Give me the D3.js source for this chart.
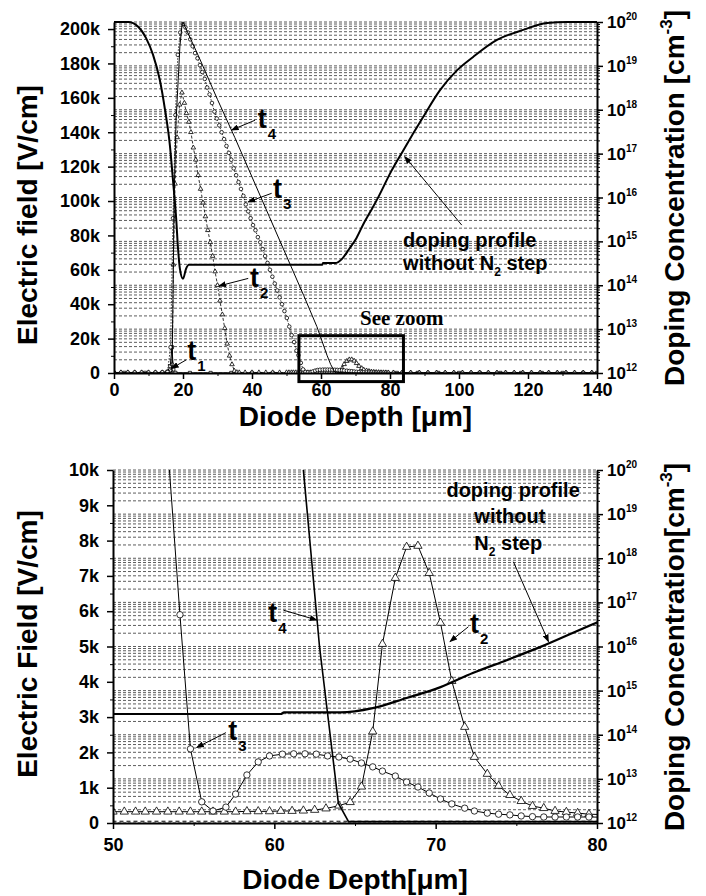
<!DOCTYPE html>
<html>
<head>
<meta charset="utf-8">
<script src="https://cdn.jsdelivr.net/npm/d3@7"></script>
<style>
  body { margin: 0; background: #fff; }
  svg { display: block; }
</style>
</head>
<body>
<svg id="chart" width="706" height="896"></svg>
<script>
// ---- data: [depth um, field kV/cm] ----
const t1 = [[0,0.1],[3,0.1],[6,0.1],[9,0.1],[12,0.1],[14,0.2],[15.5,0.8],[16.3,4],[16.8,15],[17.2,2],[17.8,0.1],
  [22,0.05],[28,0.05],[34,0.05],[40,0.05],[46,0.05],[52,0.05],[58,0.05],[64,0.05],[70,0.05],[76,0.05],
  [82,0.05],[88,0.05],[94,0.05],[100,0.05],[106,0.05],[112,0.05],[118,0.05],[124,0.05],[130,0.05],[136,0.05],[140,0.05]];

const t2 = [[0,0.3],[2,0.3],[4,0.3],[6,0.3],[8,0.3],[10,0.3],[12,0.3],[14,0.3],[15.6,0.4],[16.5,1.2],[16.9,5],
  [17.2,63],[17.7,110],[18.3,137],[19.0,156],[19.7,163],[20.4,157],[21.0,151],[21.7,146],[22.3,140],[23.0,131],
  [23.7,124],[24.4,115],[25.1,107],[25.8,99],[26.5,91],[27.2,83],[27.9,76],[28.6,68],[29.3,59],[30.0,51],
  [30.7,42],[31.4,34],[32.1,26],[32.8,17],[33.5,10],[34.2,5],[34.9,1.2],[35.6,0.4],[36.3,0.3],[38,0.3],
  [40,0.3],[42,0.3],[44,0.3],[46,0.3],[48,0.3],
  [50.0,0.32],[50.7,0.32],[51.4,0.32],[52.0,0.32],[52.7,0.32],[53.4,0.32],[54.1,0.32],[54.8,0.32],[55.5,0.32],
  [56.2,0.32],[56.9,0.32],[57.6,0.32],[58.3,0.33],[59.0,0.33],[59.7,0.33],[60.4,0.34],[61.1,0.34],[61.8,0.35],
  [62.5,0.37],[63.2,0.41],[64.0,0.49],[64.7,0.59],[65.4,1.03],[66.1,2.59],[66.7,5.07],[67.5,6.94],[68.2,7.82],
  [68.9,7.85],[69.6,7.08],[70.3,5.67],[71.0,4.02],[71.8,2.72],[72.4,1.87],[73.2,1.39],[73.9,1.05],[74.6,0.79],
  [75.3,0.62],[76.0,0.48],[76.7,0.42],[77.4,0.34],[78.1,0.31],[78.8,0.28],[79.5,0.25],
  [81,0.23],[83.5,0.22],[86,0.21],[88.5,0.2],[91,0.2],[93.5,0.2],[96,0.2],[98.5,0.2],[101,0.2],[103.5,0.2],
  [106,0.2],[108.5,0.2],[111,0.2],[113.5,0.2],[116,0.2],[118.5,0.2],[121,0.2],[123.5,0.2],[126,0.2],
  [128.5,0.2],[131,0.2],[133.5,0.2],[136,0.2],[138.5,0.2]];

const t3 = [[0,0.3],[2,0.3],[4,0.3],[6,0.3],[8,0.3],[10,0.3],[12,0.3],[14,0.4],[15.5,0.6],[16.4,15],[17.1,90],
  [17.8,150],[18.5,185],[19.2,198],[20.0,203],[20.7,201],[21.4,198],[22.1,194],[22.8,190],[23.5,186],[24.2,183],
  [24.9,179],[25.6,175],[26.3,171],[27.0,166],[27.7,162],[28.4,157],[29.1,152],[29.8,148],[30.5,144],[31.2,140],
  [31.9,136],[32.6,132],[33.3,128],[34.0,124],[34.7,119],[35.4,115],[36.1,111],[36.8,107],[37.5,103],[38.2,98],
  [38.9,94],[39.6,90],[40.3,86],[41.0,83],[41.7,79],[42.4,76],[43.1,72],[43.8,68],[44.5,64],[45.2,60],[45.9,56],
  [46.6,52],[47.3,48],[48.0,44],[48.7,40],[49.4,36],[50.1,32],[50.8,27],[51.5,22],[52.2,18],[52.9,13],
  [53.45,10.3],[54.15,5.9],[54.8,2.1],[55.5,0.6],[56.2,0.34],[57.0,0.45],[57.6,0.82],[58.3,1.36],[59.0,1.73],
  [59.7,1.9],[60.5,1.95],[61.2,1.96],[61.9,1.96],[62.6,1.95],[63.3,1.9],[64.0,1.87],[64.7,1.81],[65.4,1.70],
  [66.1,1.59],[66.7,1.47],[67.5,1.33],[68.2,1.16],[68.9,1.02],[69.6,0.85],[70.3,0.68],[71.0,0.54],[71.8,0.42],
  [72.4,0.34],[73.2,0.28],[73.9,0.25],[74.6,0.23],[75.3,0.2],[76.0,0.18],[76.7,0.17],[77.4,0.17],[78.1,0.17],
  [78.8,0.17],[79.5,0.17],[81,0.16],[83.5,0.16],[86,0.15],[88.5,0.15],[91,0.15],[93.5,0.14],[96,0.14],
  [98.5,0.14],[101,0.13],[103.5,0.13],[106,0.13],[108.5,0.12],[111,0.12],[113.5,0.12],[116,0.12],[118.5,0.11],
  [121,0.11],[123.5,0.11],[126,0.11],[128.5,0.1],[131,0.1],[133.5,0.1],[136,0.1],[138.5,0.1]];

const t4 = [[0,0.05],[10,0.05],[16.0,0.1],[16.8,1],[17.1,42],[17.4,100],[18.0,147],[18.6,170],[19.1,190],
  [19.7,202],[20.0,204],[25,182],[30,159],[35,137],[40,114],[45,91],[50,68],[55,45],[58.8,27],[61.8,10],
  [62.8,5.0],[63.97,0.56],[64.6,0.04],[80,0.04],[140,0.04]];

// doping profile without N2 step [cm^-3]
const dopingDepth = [0,4.1,7.0,9.3,11.3,13.3,14.8,16.2,17.1,18.0,18.6,19.1,20.0,20.9,21.7,40,60.4,60.6,64.1,
  66.1,68.2,70.3,72.3,74.4,76.5,80,83.8,89.6,94.5,99.4,104.1,111,118.6,125.5,131.3,140];
const dopingConc = [1e20,1e20,7.8e19,4.3e19,1.8e19,4.7e18,9.8e17,1.55e17,2.45e16,3.5e15,6.2e14,2.4e14,1.4e14,
  2.4e14,2.95e14,2.95e14,2.95e14,3.2e14,3.2e14,4.0e14,6.8e14,1.2e15,2.5e15,4.9e15,9.8e15,3.5e16,1.17e17,
  6.8e17,2.8e18,7.9e18,1.6e19,3.9e19,6.6e19,9.5e19,1e20,1e20];

// tick labels
const depthTicksFull = [0,20,40,60,80,100,120,140];
const fieldTicksFull = [0,20,40,60,80,100,120,140,160,180,200];
const depthTicksZoom = [50,60,70,80];
const fieldTicksZoom = [0,1,2,3,4,5,6,7,8,9,10];
const decadeExps = [12,13,14,15,16,17,18,19,20];
const mantissas = [1,2,3,4,5,6,7,8,9];

const doping = dopingDepth.map((d, i) => [d, dopingConc[i]]);
const font = "'Liberation Sans', Arial, Helvetica, sans-serif";
const svg = d3.select("#chart");

svg.append("rect").attr("width", 706).attr("height", 896).attr("fill", "#fff");

svg.append("defs").append("marker")
    .attr("id", "arrow")
    .attr("markerUnits", "userSpaceOnUse")
    .attr("markerWidth", 8).attr("markerHeight", 6)
    .attr("refX", 7).attr("refY", 3)
    .attr("orient", "auto")
    .append("path").attr("d", "M0,0 L8,3 L0,6 Z").attr("fill", "#000");

// log grid values shared by both panels
const gridVals = [];
decadeExps.forEach(n => {
    if (n < 20) mantissas.forEach(m => gridVals.push(m * Math.pow(10, n)));
});
gridVals.push(1e20);

function midpoints(arr) {
    const out = [];
    for (let i = 0; i < arr.length - 1; i++) out.push((arr[i] + arr[i + 1]) / 2);
    return out;
}

function drawPanel(p) {
    const x = d3.scaleLinear().domain(p.xDomain).range([p.left, p.right]);
    const y = d3.scaleLinear().domain(p.yDomain).range([p.bottom, p.top]);
    const yDop = d3.scaleLog().domain([1e12, 1e20]).range([p.bottom, p.top]);
    const g = svg.append("g");

    svg.select("defs").append("clipPath").attr("id", "clip-" + p.name)
        .append("rect")
        .attr("x", p.left).attr("y", p.top - p.clipPad)
        .attr("width", p.right - p.left)
        .attr("height", p.bottom - p.top + p.clipPad);

    // dashed log grid of the doping axis
    g.append("g").selectAll("line").data(gridVals).join("line")
        .attr("x1", p.left).attr("x2", p.right)
        .attr("y1", d => yDop(d)).attr("y2", d => yDop(d))
        .attr("stroke", "#333")
        .attr("stroke-width", 0.8)
        .attr("stroke-dasharray", "3,2");

    const plot = g.append("g").attr("clip-path", `url(#clip-${p.name})`);
    const line = d3.line().x(d => x(d[0])).y(d => y(d[1]));

    p.series.forEach(s => {
        plot.append("path").datum(s.data)
            .attr("d", line)
            .attr("fill", "none")
            .attr("stroke", "#000")
            .attr("stroke-width", s.width)
            .attr("stroke-dasharray", s.dash || null);

        if (s.marker === "circle") {
            plot.append("g").selectAll("circle").data(s.data).join("circle")
                .attr("cx", d => x(d[0])).attr("cy", d => y(d[1]))
                .attr("r", s.size)
                .attr("fill", "#fff").attr("stroke", "#000").attr("stroke-width", 0.8);
        } else if (s.marker) {
            const type = s.marker === "triangle" ? d3.symbolTriangle : d3.symbolSquare;
            plot.append("g").selectAll("path").data(s.data).join("path")
                .attr("transform", d => `translate(${x(d[0])},${y(d[1])})`)
                .attr("d", d3.symbol(type, s.size))
                .attr("fill", "#fff").attr("stroke", "#000").attr("stroke-width", 0.8);
        }
    });

    // doping profile on the log axis
    plot.append("path").datum(doping)
        .attr("d", d3.line().x(d => x(d[0])).y(d => yDop(d[1])).curve(d3.curveMonotoneX))
        .attr("fill", "none")
        .attr("stroke", "#000")
        .attr("stroke-width", p.dopingWidth);

    // axes
    const styleAxis = sel => {
        sel.attr("font-family", font).attr("font-size", 18).attr("font-weight", "bold");
        sel.select(".domain").attr("stroke-width", 2);
        sel.selectAll(".tick line").attr("stroke-width", 1.5);
        sel.selectAll("text").attr("fill", "#000");
    };

    g.append("g").attr("transform", `translate(${p.left},0)`)
        .call(d3.axisLeft(y).tickValues(p.yTicks).tickSize(6).tickSizeOuter(0).tickPadding(8)
            .tickFormat(d => d === 0 ? "0" : d + "k"))
        .call(styleAxis);
    g.append("g").attr("transform", `translate(${p.left},0)`)
        .call(d3.axisLeft(y).tickValues(midpoints(p.yTicks)).tickSize(3).tickFormat(""))
        .call(sel => sel.select(".domain").remove());

    g.append("g").attr("transform", `translate(0,${p.bottom})`)
        .call(d3.axisBottom(x).tickValues(p.xTicks).tickSize(6).tickSizeOuter(0).tickPadding(p.xTickPad))
        .call(styleAxis);
    g.append("g").attr("transform", `translate(0,${p.bottom})`)
        .call(d3.axisBottom(x).tickValues(midpoints(p.xTicks)).tickSize(3).tickFormat(""))
        .call(sel => sel.select(".domain").remove());

    g.append("g").attr("transform", `translate(${p.right},0)`)
        .call(d3.axisRight(yDop).tickValues(decadeExps.map(n => Math.pow(10, n)))
            .tickSize(6).tickSizeOuter(0).tickFormat(""))
        .call(styleAxis);
    g.append("g").attr("transform", `translate(${p.right},0)`)
        .call(d3.axisRight(yDop).tickValues(gridVals).tickSize(3).tickFormat(""))
        .call(sel => sel.select(".domain").remove());

    // 10^n labels
    const dec = g.append("g").selectAll("text").data(decadeExps).join("text")
        .attr("x", p.right + 10)
        .attr("y", n => yDop(Math.pow(10, n)) + 6)
        .attr("font-family", font).attr("font-weight", "bold");
    dec.append("tspan").attr("font-size", 17).text("10");
    dec.append("tspan").attr("font-size", 10).attr("dy", -8).text(n => n);

    // axis titles
    const title = (tx, ty, rot, txt, size, sup, tail) => {
        const t = g.append("text")
            .attr("transform", `translate(${tx},${ty})` + (rot ? " rotate(-90)" : ""))
            .attr("text-anchor", "middle")
            .attr("font-family", font).attr("font-size", size).attr("font-weight", "bold")
            .text(txt);
        if (sup) {
            t.append("tspan").attr("font-size", 17).attr("dy", -12).text(sup);
            t.append("tspan").attr("dy", 12).text(tail);
        }
    };
    title(37, p.leftTitleY, true, p.leftTitle, 28);
    title(684, p.rightTitleY, true, p.rightTitle, 28, "-3", "]");
    title((p.left + p.right) / 2, p.xTitleY, false, p.xTitle, p.xTitleSize);

    // t labels with arrows
    const ann = g.append("g");
    p.labels.forEach(l => {
        const t = ann.append("text")
            .attr("x", x(l.at[0])).attr("y", y(l.at[1]))
            .attr("font-family", font).attr("font-weight", "bold").attr("font-size", 27)
            .text("t");
        t.append("tspan").attr("font-size", 15).attr("dx", 1).attr("dy", 11).text(l.sub);
        ann.append("line")
            .attr("x1", x(l.from[0])).attr("y1", y(l.from[1]))
            .attr("x2", x(l.to[0])).attr("y2", y(l.to[1]))
            .attr("stroke", "#000").attr("stroke-width", 1)
            .attr("marker-end", "url(#arrow)");
    });

    return { x, y, g };
}

// ---- top panel: full depth ----
const fullPanel = drawPanel({
    name: "full", xDomain: [0, 140], yDomain: [0, 204.1],
    left: 114, right: 597, top: 22, bottom: 373, clipPad: 4,
    xTicks: depthTicksFull, yTicks: fieldTicksFull, dopingWidth: 2, xTickPad: 4,
    leftTitle: "Electric field [V/cm]", leftTitleY: 215,
    rightTitle: "Doping Concentration [cm", rightTitleY: 198,
    xTitle: "Diode Depth [\u03bcm]", xTitleY: 426, xTitleSize: 28,
    series: [
        { data: t1, width: 1, marker: "square", size: 10 },
        { data: t2, width: 0.8, dash: "3,2", marker: "triangle", size: 9 },
        { data: t3, width: 0.8, dash: "1.5,1.5", marker: "circle", size: 1.8 },
        { data: t4, width: 1 }
    ],
    labels: [
        { sub: "4", at: [41.7, 142.4], from: [40.9, 147], to: [34.1, 141.3] },
        { sub: "3", at: [46.1, 101.7], from: [45.7, 104.5], to: [38.9, 99.5] },
        { sub: "2", at: [39.4, 50], from: [38.9, 55], to: [30.4, 50.6] },
        { sub: "1", at: [21.2, 7.6], from: [20.9, 7.6], to: [16.7, 2.7] }
    ]
});

const fullText = fullPanel.g.append("g").attr("font-family", font).attr("font-weight", "bold").attr("font-size", 20);
fullText.append("text").attr("x", fullPanel.x(83.8)).attr("y", fullPanel.y(73.3)).text("doping profile");
const wo = fullText.append("text").attr("x", fullPanel.x(83.8)).attr("y", fullPanel.y(59.9)).text("without N");
wo.append("tspan").attr("font-size", 12).attr("dy", 6).text("2");
wo.append("tspan").attr("dy", -6).text(" step");
fullPanel.g.append("line")
    .attr("x1", fullPanel.x(100.8)).attr("y1", fullPanel.y(86))
    .attr("x2", fullPanel.x(84.3)).attr("y2", fullPanel.y(125.8))
    .attr("stroke", "#000").attr("stroke-width", 1).attr("marker-end", "url(#arrow)");
fullPanel.g.append("text")
    .attr("x", fullPanel.x(71.3)).attr("y", fullPanel.y(27.9))
    .attr("font-family", "'Liberation Serif', 'Times New Roman', serif")
    .attr("font-weight", "bold").attr("font-size", 21)
    .text("See zoom");
fullPanel.g.append("rect")
    .attr("x", fullPanel.x(53.6)).attr("y", fullPanel.y(21.7))
    .attr("width", fullPanel.x(83.9) - fullPanel.x(53.6))
    .attr("height", fullPanel.y(-5.0) - fullPanel.y(21.7))
    .attr("fill", "none").attr("stroke", "#000").attr("stroke-width", 3);

// ---- bottom panel: zoom 50-80 um ----
const zoomPanel = drawPanel({
    name: "zoom", xDomain: [50, 80], yDomain: [0, 10],
    left: 113, right: 597, top: 470, bottom: 823, clipPad: 0,
    xTicks: depthTicksZoom, yTicks: fieldTicksZoom, dopingWidth: 2.2, xTickPad: 9,
    leftTitle: "Electric Field [V/cm]", leftTitleY: 644,
    rightTitle: "Doping Concentration[cm", rightTitleY: 647,
    xTitle: "Diode Depth[\u03bcm]", xTitleY: 889, xTitleSize: 28,
    series: [
        { data: t1, width: 1, dash: "4,3" },
        { data: t2, width: 1, marker: "triangle", size: 30 },
        { data: t3, width: 1, marker: "circle", size: 3.2 },
        { data: t4, width: 1.6 }
    ],
    labels: [
        { sub: "4", at: [59.63, 5.7], from: [60.56, 6.03], to: [62.63, 5.75] },
        { sub: "3", at: [57.15, 2.35], from: [57.0, 2.56], to: [55.19, 2.14] },
        { sub: "2", at: [72.13, 5.38], from: [72.03, 5.56], to: [70.89, 5.14] }
    ]
});

const zoomText = zoomPanel.g.append("g").attr("font-family", font).attr("font-weight", "bold")
    .attr("font-size", 20).attr("text-anchor", "middle");
zoomText.append("text").attr("x", zoomPanel.x(74.8)).attr("y", zoomPanel.y(9.24)).text("doping profile");
zoomText.append("text").attr("x", zoomPanel.x(74.6)).attr("y", zoomPanel.y(8.5)).text("without");
const n2 = zoomText.append("text").attr("x", zoomPanel.x(74.5)).attr("y", zoomPanel.y(7.73)).text("N");
n2.append("tspan").attr("font-size", 12).attr("dy", 6).text("2");
n2.append("tspan").attr("dy", -6).text(" step");
zoomPanel.g.append("line")
    .attr("x1", zoomPanel.x(74.82)).attr("y1", zoomPanel.y(7.40))
    .attr("x2", zoomPanel.x(76.99)).attr("y2", zoomPanel.y(5.14))
    .attr("stroke", "#000").attr("stroke-width", 1).attr("marker-end", "url(#arrow)");
</script>
</body>
</html>
